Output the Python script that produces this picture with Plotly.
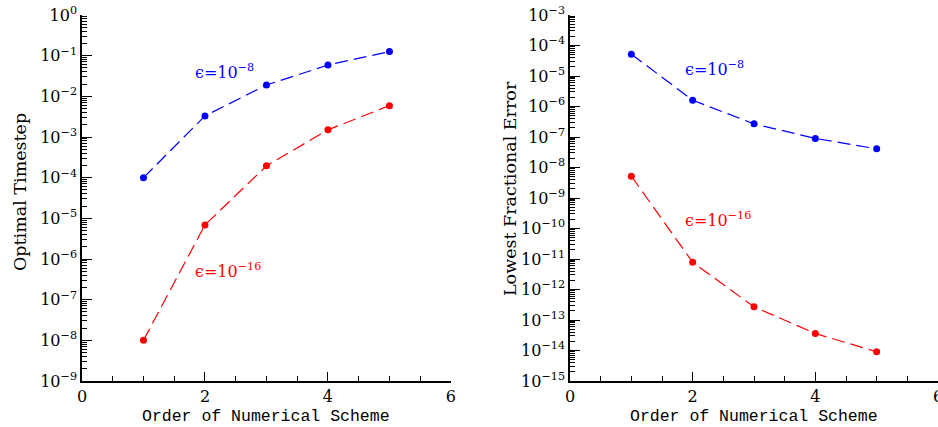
import plotly.graph_objects as go

orders = [1, 2, 3, 4, 5]
dt_eps8 = [1.0e-4, 3.3e-3, 1.9e-2, 5.9e-2, 1.26e-1]
dt_eps16 = [1.0e-8, 6.9e-6, 1.95e-4, 1.5e-3, 5.9e-3]
err_eps8 = [5.2e-5, 1.6e-6, 2.7e-7, 9.0e-8, 4.1e-8]
err_eps16 = [5.2e-9, 7.8e-12, 2.7e-13, 3.6e-14, 9.1e-15]

left_decades = list(range(-9, 1))
right_decades = list(range(-15, -2))
x_ticks = [0, 2, 4, 6]

BLUE = "#0000ff"
RED = "#ff0000"
FONT = "DejaVu Serif"
MONO = "Liberation Mono"

FIG_W, FIG_H = 938, 427
M_L, M_T, M_B = 82, 15, 46
PLOT_H = FIG_H - M_T - M_B
PLOT_W = FIG_W - M_L


def sup(k):
    s = str(k).replace("-", "\u2212")
    return f"10<sup>{s}</sup>"


def minor_vals(decades):
    vals = []
    for k in decades[:-1]:
        for m in range(2, 10):
            vals.append(m * 10.0 ** k)
    return vals


fig = go.Figure()
line = dict(width=1.2, dash="13px,6px")
mk = dict(size=7, symbol="circle")
fig.add_trace(go.Scatter(x=orders, y=dt_eps8, mode="lines+markers", xaxis="x", yaxis="y",
                         line=dict(color=BLUE, **line), marker=dict(color=BLUE, **mk)))
fig.add_trace(go.Scatter(x=orders, y=dt_eps16, mode="lines+markers", xaxis="x", yaxis="y",
                         line=dict(color=RED, **line), marker=dict(color=RED, **mk)))
fig.add_trace(go.Scatter(x=orders, y=err_eps8, mode="lines+markers", xaxis="x2", yaxis="y2",
                         line=dict(color=BLUE, **line), marker=dict(color=BLUE, **mk)))
fig.add_trace(go.Scatter(x=orders, y=err_eps16, mode="lines+markers", xaxis="x2", yaxis="y2",
                         line=dict(color=RED, **line), marker=dict(color=RED, **mk)))

xcommon = dict(range=[0, 6], tickmode="array", tickvals=x_ticks, ticktext=[str(v) for v in x_ticks],
               ticks="inside", ticklen=9, tickwidth=1.2, tickcolor="black", automargin=False,
               ticklabeloverflow="allow",
               minor=dict(dtick=0.5, tick0=0, ticks="inside", ticklen=5, tickwidth=1.2, tickcolor="black", showgrid=False),
               showline=True, linecolor="black", linewidth=1.5, showgrid=False, zeroline=False,
               tickfont=dict(family=FONT, size=16, color="black"))


def ycommon(decades):
    return dict(type="log", range=[decades[0], decades[-1]], tickmode="array", automargin=False,
                ticklabeloverflow="allow",
                tickvals=[10.0 ** k for k in decades], ticktext=[sup(k) for k in decades],
                ticks="inside", ticklen=10, tickwidth=1.2, tickcolor="black",
                minor=dict(tickmode="array", tickvals=minor_vals(decades), ticks="inside", ticklen=5,
                           tickwidth=1, tickcolor="black", showgrid=False),
                showline=True, linecolor="black", linewidth=1.5, showgrid=False, zeroline=False,
                tickfont=dict(family=FONT, size=16, color="black"))


fig.update_layout(
    width=FIG_W, height=FIG_H,
    margin=dict(l=M_L, r=0, t=M_T, b=M_B, autoexpand=False),
    paper_bgcolor="white", plot_bgcolor="white",
    showlegend=False,
    xaxis=dict(domain=[0, 0.431], anchor="y", **xcommon),
    yaxis=dict(domain=[0, 1], anchor="x", **ycommon(left_decades)),
    xaxis2=dict(domain=[0.5701, 1.0], anchor="y2", **xcommon),
    yaxis2=dict(domain=[0, 1], anchor="x2", **ycommon(right_decades)),
)

ann_font = lambda c: dict(family=FONT, size=16, color=c)
eps8 = "\u03f5=10<sup>\u22128</sup>"
eps16 = "\u03f5=10<sup>\u221216</sup>"
fig.add_annotation(x=1.80, y=-1.40, xref="x", yref="y", text=eps8, showarrow=False,
                   xanchor="left", yanchor="middle", font=ann_font(BLUE))
fig.add_annotation(x=1.80, y=-6.28, xref="x", yref="y", text=eps16, showarrow=False,
                   xanchor="left", yanchor="middle", font=ann_font(RED))
fig.add_annotation(x=1.84, y=-4.74, xref="x2", yref="y2", text=eps8, showarrow=False,
                   xanchor="left", yanchor="middle", font=ann_font(BLUE))
fig.add_annotation(x=1.84, y=-9.72, xref="x2", yref="y2", text=eps16, showarrow=False,
                   xanchor="left", yanchor="middle", font=ann_font(RED))

title_font = dict(family=MONO, size=16.5, color="black")
fig.add_annotation(x=0.2155, y=-35 / PLOT_H, xref="paper", yref="paper", text="Order of Numerical Scheme",
                   showarrow=False, xanchor="center", yanchor="middle", font=title_font)
fig.add_annotation(x=0.785, y=-35 / PLOT_H, xref="paper", yref="paper", text="Order of Numerical Scheme",
                   showarrow=False, xanchor="center", yanchor="middle", font=title_font)
fig.add_annotation(x=(20 - 82) / PLOT_W, y=(381 - 192) / PLOT_H, xref="paper", yref="paper", text="Optimal Timestep",
                   showarrow=False, textangle=-90, xanchor="center", yanchor="middle",
                   font=dict(family=FONT, size=17.5, color="black"))
fig.add_annotation(x=(510 - 82) / PLOT_W, y=(381 - 189) / PLOT_H, xref="paper", yref="paper", text="Lowest Fractional Error",
                   showarrow=False, textangle=-90, xanchor="center", yanchor="middle",
                   font=dict(family=FONT, size=17.5, color="black"))

fig.write_html("out.html", config={"displayModeBar": False},
               post_script="document.body.style.margin='0';")
